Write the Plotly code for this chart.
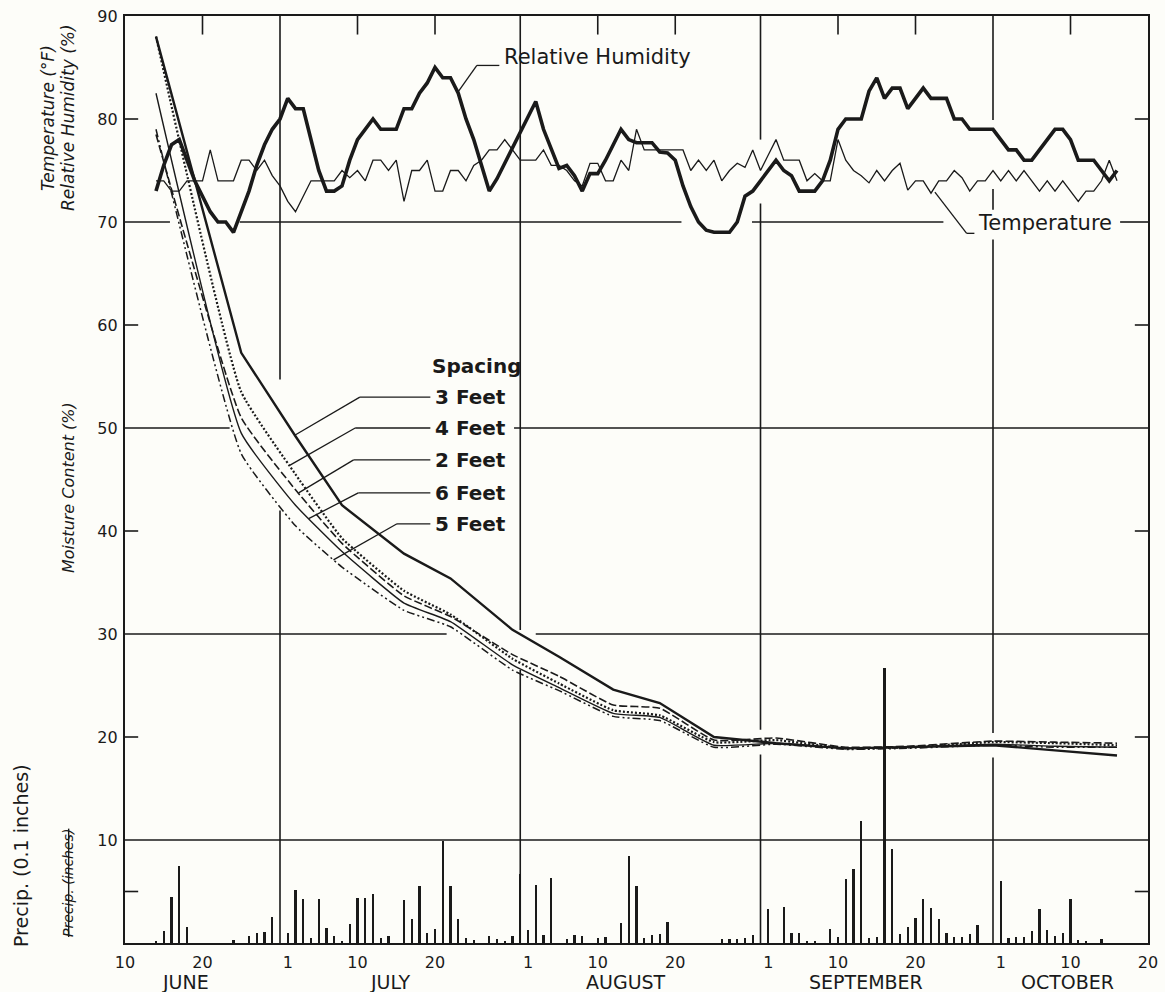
import plotly.graph_objects as go

# ---------------- data ----------------
# day index: 0 = June 10, 20 = June 30, 51 = July 31, 82 = Aug 31, 112 = Sep 30, 132 = Oct 20
weather_days = list(range(4, 129))
humidity = [73, 75.5, 77.5, 78, 76, 74, 72.5, 71, 70, 70, 69, 71, 73, 75.5, 77.5, 79, 80, 82, 81, 81,
            78, 75, 73, 73, 73.5, 76, 78, 79, 80, 79, 79, 79, 81, 81, 82.5, 83.5, 85, 84, 84, 82.5,
            80, 78, 75.5, 73, 74.2, 75.7, 77.2, 78.7, 80.2, 81.7, 79, 77, 75.2, 75.5, 74.5, 73, 74.7, 74.7, 76, 77.5,
            79, 78, 77.7, 77.7, 77.7, 76.8, 76.7, 76, 73.5, 71.5, 70, 69.2, 69, 69, 69, 70, 72.5, 73, 74, 75,
            76, 75, 74.5, 73, 73, 73, 74, 76, 79, 80, 80, 80, 82.7, 84, 82, 83, 83, 81, 82, 83,
            82, 82, 82, 80, 80, 79, 79, 79, 79, 78, 77, 77, 76, 76, 77, 78, 79, 79, 78, 76,
            76, 76, 75, 74, 75]
temperature = [74, 74, 73, 73, 74, 74, 74, 77, 74, 74, 74, 76, 76, 75, 76, 74.5, 73.5, 72, 71, 72.5,
               74, 74, 74, 74, 75, 74.3, 75, 74, 76, 76, 75, 76, 72, 75, 75, 76, 73, 73, 75, 75,
               74, 75.5, 76, 77, 77, 78, 77, 76, 76, 76, 77, 75.5, 75.5, 75, 74, 73.5, 75.7, 75.7, 74, 74,
               76, 75, 79, 77, 77, 77, 77, 77, 77, 75, 76, 75, 76, 74, 75, 75.7, 75.3, 77, 75, 76.5,
               78, 76, 76, 76, 74, 74.7, 74, 74, 78, 76, 75, 74.5, 73.8, 75, 74, 75, 75.7, 73.1, 74, 74,
               72.8, 74, 74, 75, 74.3, 73, 74, 74, 75, 74, 75, 74, 75, 74, 73, 74, 73, 74, 73, 72,
               73, 73, 74, 76, 74]

moisture_days = [4, 15, 22, 28, 36, 42, 50, 56, 63, 69, 76, 84, 93, 101, 112, 120, 128]
moist_3ft = [88, 57.3, 49.2, 42.5, 37.8, 35.4, 30.4, 27.8, 24.6, 23.3, 20.0, 19.4, 18.9, 19.0, 19.2, 18.7, 18.2]
moist_4ft = [88, 53.5, 45.5, 39.3, 34.2, 31.9, 27.6, 25.2, 22.6, 22.1, 19.5, 19.7, 18.9, 19.0, 19.5, 19.4, 19.2]
moist_2ft = [78.5, 51.0, 44.0, 38.8, 33.7, 31.7, 28.0, 25.9, 23.1, 22.8, 19.7, 19.9, 19.0, 19.1, 19.6, 19.5, 19.4]
moist_6ft = [82.5, 49.5, 42.5, 38.0, 33.0, 31.2, 27.0, 24.8, 22.3, 21.9, 19.2, 19.4, 18.9, 19.0, 19.3, 19.1, 19.0]
moist_5ft = [79, 47.5, 40.5, 36.5, 32.3, 30.7, 26.5, 24.5, 22.0, 21.6, 19.0, 19.3, 18.8, 18.9, 19.2, 19.0, 19.0]

precip_days = [4, 5, 6, 7, 8, 14, 16, 17, 18, 19, 21, 22, 23, 24, 25, 26, 27, 28, 29, 30,
               31, 32, 33, 34, 36, 37, 38, 39, 40, 41, 42, 43, 44, 45, 47, 48, 49, 50, 51, 52,
               53, 54, 55, 57, 58, 59, 61, 62, 64, 65, 66, 67, 68, 69, 70, 77, 78, 79, 80, 81,
               83, 85, 86, 87, 88, 89, 91, 92, 93, 94, 95, 96, 97, 98, 99, 100, 101, 102, 103, 104,
               105, 106, 107, 108, 109, 110, 113, 114, 115, 116, 117, 118, 119, 120, 121, 122, 123, 124, 126]
precip = [0.2, 1.2, 4.5, 7.5, 1.6, 0.3, 0.7, 1.0, 1.1, 2.5, 1.0, 5.1, 4.3, 0.5, 4.3, 1.5, 0.7, 0.2, 1.8, 4.4,
          4.4, 4.8, 0.5, 0.7, 4.2, 2.3, 5.5, 1.0, 1.4, 9.9, 5.5, 2.3, 0.5, 0.3, 0.7, 0.4, 0.2, 0.7, 6.7, 1.3,
          5.6, 0.8, 6.3, 0.4, 0.8, 0.7, 0.5, 0.6, 1.9, 8.4, 5.5, 0.5, 0.75, 0.9, 2.0, 0.35, 0.35, 0.4, 0.5, 0.8,
          3.3, 3.5, 1.0, 1.0, 0.2, 0.2, 1.4, 0.6, 6.2, 7.2, 11.8, 0.5, 0.6, 26.7, 9.1, 0.9, 1.6, 2.4, 4.3, 3.4,
          2.3, 1.0, 0.6, 0.6, 0.9, 1.7, 6.0, 0.5, 0.6, 0.6, 1.2, 3.3, 1.3, 0.7, 1.0, 4.3, 0.3, 0.2, 0.4]

x_tick_vals = [0, 10, 21, 30, 40, 52, 61, 71, 83, 92, 102, 113, 122, 132]
x_tick_text = ["10", "20", "1", "10", "20", "1", "10", "20", "1", "10", "20", "1", "10", "20"]
month_names = ["JUNE", "JULY", "AUGUST", "SEPTEMBER", "OCTOBER"]
month_pos = [7.8, 34.2, 64.7, 95.6, 121.6]
y_tick_vals = [10, 20, 30, 40, 50, 60, 70, 80, 90]

spacing_labels = ["3 Feet", "4 Feet", "2 Feet", "6 Feet", "5 Feet"]

# ---------------- figure ----------------
INK = "#1a1a1a"
BG = "#fdfdf9"
FONT = "'DejaVu Sans', Lato, sans-serif"
fig = go.Figure()

fig.add_trace(go.Bar(x=precip_days, y=precip, width=0.3, marker=dict(color=INK, line=dict(width=0)),
                     showlegend=False))

styles = [
    (moist_3ft, dict(color=INK, width=2.4, dash="solid", shape="linear")),
    (moist_4ft, dict(color=INK, width=2.2, dash="2px,2px", shape="spline", smoothing=0.4)),
    (moist_2ft, dict(color=INK, width=1.6, dash="8px,3px", shape="spline", smoothing=0.4)),
    (moist_6ft, dict(color=INK, width=1.4, dash="solid", shape="spline", smoothing=0.4)),
    (moist_5ft, dict(color=INK, width=1.5, dash="8px,3px,2px,3px,2px,3px", shape="spline", smoothing=0.4)),
]
for vals, ln in styles:
    fig.add_trace(go.Scatter(x=moisture_days, y=vals, mode="lines", line=ln, showlegend=False))

fig.add_trace(go.Scatter(x=weather_days, y=temperature, mode="lines",
                         line=dict(color=INK, width=1.3), showlegend=False))
fig.add_trace(go.Scatter(x=weather_days, y=humidity, mode="lines",
                         line=dict(color=INK, width=3.6), showlegend=False))

shapes = []
def seg(x0, y0, x1, y1, w=1.6):
    shapes.append(dict(type="line", xref="x", yref="y", x0=x0, y0=y0, x1=x1, y1=y1,
                       line=dict(color=INK, width=w), layer="below"))

# horizontal grid (drafted with breaks)
for y, parts in [(70, [(0, 5.8), (14.8, 71.8), (80.9, 105.6), (128.4, 132)]),
                 (50, [(0, 13.5), (50.2, 132)]),
                 (30, [(0, 41.5), (53, 132)]),
                 (10, [(0, 132)])]:
    for a, b in parts:
        seg(a, y, b, y)
# vertical month lines
for x, parts in [(20, [(0, 42), (54.7, 90)]),
                 (51, [(0, 26.5), (30.4, 90)]),
                 (82, [(0, 18.3), (20.7, 71.8), (78, 90)]),
                 (112, [(0, 18), (20.4, 68.3), (71.2, 73.2), (79.9, 90)])]:
    for a, b in parts:
        seg(x, a, x, b)
# top inner ticks
for x in [10, 30, 40, 61, 71, 92, 102, 122]:
    seg(x, 90, x, 88.2)
# side inner ticks
for y in [5, 20, 40, 60, 80]:
    seg(0, y, 1.7, y)
    seg(132, y, 130.3, y)

# leader lines
seg(43.0, 82.65, 45.4, 85.2, 1.3)
seg(45.4, 85.2, 48.3, 85.2, 1.3)
seg(104.5, 72.9, 108.6, 68.9, 1.3)
seg(108.6, 68.9, 109.6, 68.9, 1.3)
legend_y = [53.0, 50.0, 46.9, 43.7, 40.7]
legend_bend = [30.3, 29.7, 29.5, 30.1, 35.1]
legend_tip = [(21.9, 49.3), (21.3, 46.4), (22.4, 43.7), (23.7, 41.2), (26.9, 37.2)]
for ly, bx, (tx, ty) in zip(legend_y, legend_bend, legend_tip):
    seg(tx, ty, bx, ly, 1.3)
    seg(bx, ly, 39.4, ly, 1.3)

ann = []
def txt(x, y, s, size=17, xanchor="left", xref="x", yref="y", angle=0, **kw):
    ann.append(dict(x=x, y=y, xref=xref, yref=yref, text=s, showarrow=False, xanchor=xanchor,
                    yanchor="middle", textangle=angle, font=dict(family=FONT, size=size, color=INK), **kw))

txt(48.6, 86.0, "Relative Humidity", 21)
txt(109.8, 69.9, "Temperature", 21)
txt(39.4, 56.0, "<b>Spacing</b>", 20)
for ly, lab in zip(legend_y, spacing_labels):
    txt(39.8, ly, "<b>" + lab + "</b>", 20)

for name, pos in zip(month_names, month_pos):
    txt(pos, -0.042, name, 19, xanchor="center", yref="paper")

W, H = 1023, 927
def px(X):
    return (X - 125) / W
def py(Y):
    return (943 - Y) / H
txt(px(48), py(118), "<i>Temperature (°F)</i>", 17, xanchor="center", xref="paper", yref="paper", angle=-90)
txt(px(68), py(118), "<i>Relative Humidity (%)</i>", 17, xanchor="center", xref="paper", yref="paper", angle=-90)
txt(px(68), py(488), "<i>Moisture Content (%)</i>", 16, xanchor="center", xref="paper", yref="paper", angle=-90)
txt(px(68), py(883), "<i><s>Precip. (inches)</s></i>", 14, xanchor="center", xref="paper", yref="paper", angle=-90)
txt(px(21), py(856), "Precip. (0.1 inches)", 19, xanchor="center", xref="paper", yref="paper", angle=-90)

fig.update_layout(
    width=1165, height=992,
    margin=dict(l=125, r=17, t=16, b=49),
    paper_bgcolor=BG, plot_bgcolor=BG,
    font=dict(family=FONT, color=INK),
    shapes=shapes, annotations=ann, bargap=0,
    showlegend=False,
)
fig.update_xaxes(range=[0, 132], showgrid=False, zeroline=False, showline=True, linewidth=2.2,
                 linecolor=INK, mirror=True, tickvals=x_tick_vals, ticktext=x_tick_text, ticks="",
                 tickfont=dict(size=16, family=FONT, color=INK), ticklabelstandoff=4, automargin=False)
fig.update_yaxes(range=[0, 90], showgrid=False, zeroline=False, showline=True, linewidth=2.2,
                 linecolor=INK, mirror=True, tickvals=y_tick_vals, ticks="",
                 tickfont=dict(size=16, family=FONT, color=INK), ticklabelstandoff=2, automargin=False)

# remove the default 8px page margin so the figure fills the 1165x992 window exactly
fig.write_html("out.html", config={"displayModeBar": False},
               post_script="document.body.style.margin='0';")
